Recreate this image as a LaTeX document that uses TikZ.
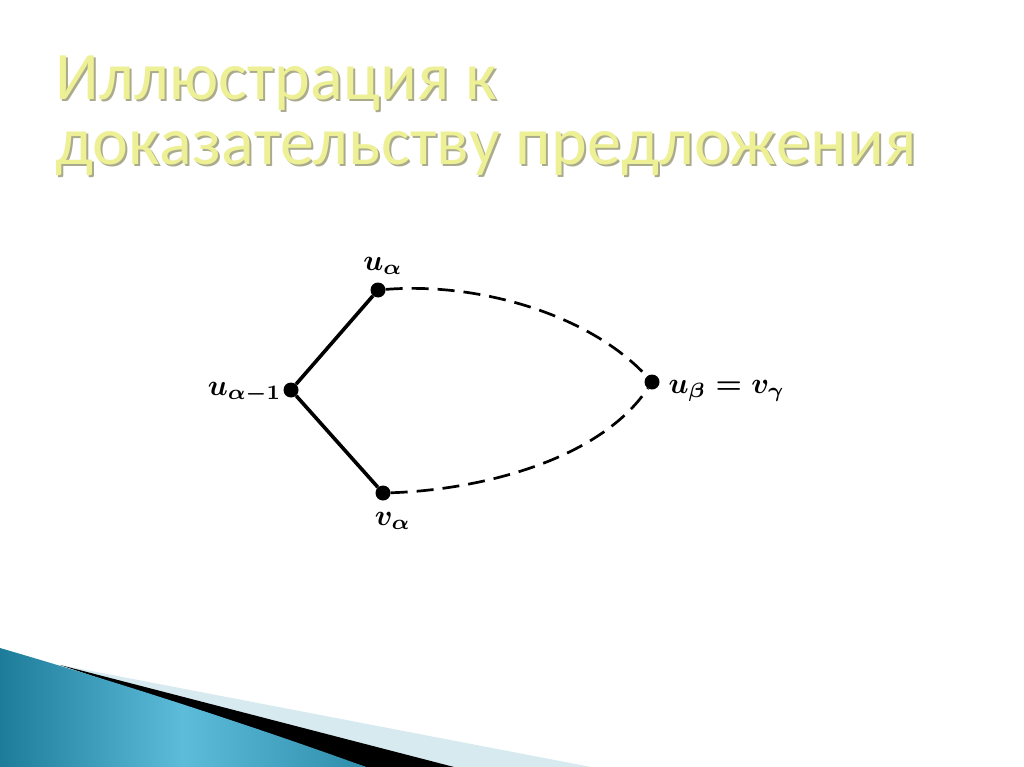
\documentclass[tikz,border=0pt]{standalone}
\usepackage{fontspec}
\usetikzlibrary{positioning}
\newfontfamily\titlefont{Carlito}[LetterSpace=0.5]
\definecolor{titleyellow}{RGB}{238,240,150}
\definecolor{titleshade}{RGB}{170,170,140}
\definecolor{tealdark}{RGB}{12,108,138}
\definecolor{teallight}{RGB}{92,188,218}
\definecolor{paleblue}{RGB}{214,234,240}
\pgfdeclarehorizontalshading{swoosh}{100bp}{color(0bp)=(tealdark); color(25bp)=(tealdark!80!teallight); color(50bp)=(teallight); color(80bp)=(tealdark!70!teallight); color(100bp)=(tealdark)}
\tikzset{
	dot/.style={circle,fill=black,inner sep=0pt,minimum size=15pt},
	lbl/.style={scale=2.95,inner sep=0pt,font=\boldmath},
	edge/.style={line width=3.6pt},
	dashline/.style={line width=2.7pt,dash pattern=on 17pt off 9pt},
	title/.style={anchor=base west,inner sep=0pt,font=\titlefont\fontsize{68}{80}\selectfont}
}

\begin{document}
\begin{tikzpicture}[x=1pt,y=-1pt]
			\useasboundingbox[fill=white] (0,0) rectangle (1024,767);
			% swoosh in the corner
			\fill[paleblue] (60,665) -- (591,767) -- (366,767) -- cycle;
			\fill[black] (60,665) -- (454,767) -- (366,767) -- cycle;
			\shade[shading=swoosh]
				(0,648) .. controls (120,683) and (250,725) .. (366,767) -- (0,767) -- cycle;
			% title
			\node[title,text=titleshade] (t1s) at (57,102) {Иллюстрация к};
			\node[title,text=titleshade] (t2s) at (57,167) {доказательству предложения};
			\node[title,text=titleyellow] (t1) at (55,100) {Иллюстрация к};
			\node[title,text=titleyellow] (t2) at (55,165) {доказательству предложения};
			% graph
			\node[dot] (uam) at (291,390) {};
			\node[dot] (ua) at (378,290) {};
			\node[dot] (va) at (383,493) {};
			\node[dot] (ub) at (652,382) {};
			\node[lbl] (lua) at (383,266) {$u_\alpha$};
			\node[lbl,anchor=east] (luam) at (282,393) {$u_{\alpha-1}$};
			\node[lbl] (lva) at (393,521) {$v_\alpha$};
			\node[lbl,anchor=west] (lub) at (668,391) {$u_\beta=v_\gamma$};
			\draw[edge] (uam) -- (ua);
			\draw[edge] (uam) -- (va);
			\draw[dashline] (ua) .. controls (480,282) and (590,315) .. (ub);
			\draw[dashline] (va) .. controls (480,490) and (600,460) .. (ub);
		\end{tikzpicture}
\end{document}
